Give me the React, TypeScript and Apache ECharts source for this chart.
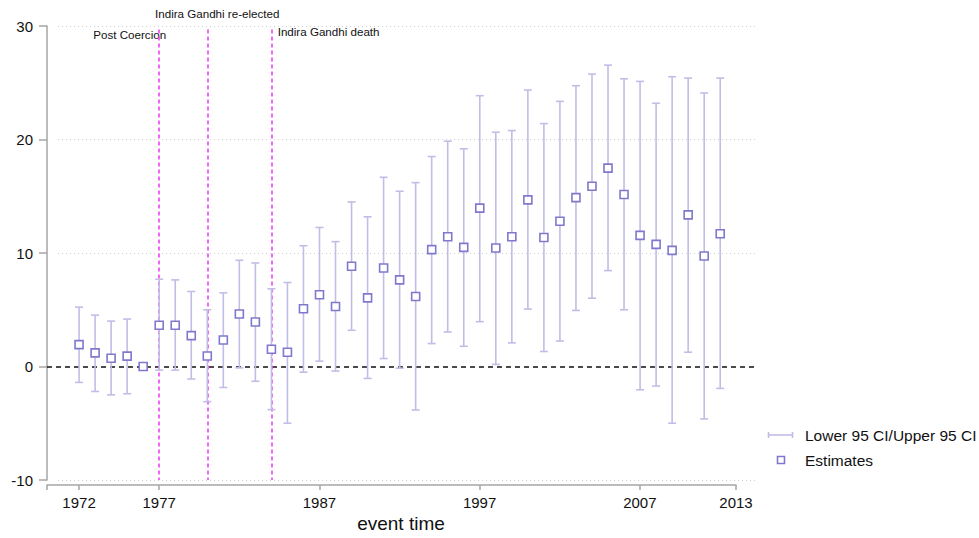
import React, { useEffect, useRef } from "react";
import * as echarts from "echarts";

const years = [1972,1973,1974,1975,1976,1977,1978,1979,1980,1981,1982,1983,1984,1985,1986,1987,1988,1989,1990,1991,1992,1993,1994,1995,1996,1997,1998,1999,2000,2001,2002,2003,2004,2005,2006,2007,2008,2009,2010,2011,2012];
const estimates = [1.93,1.2,0.73,0.91,0,3.63,3.63,2.72,0.93,2.34,4.62,3.92,1.52,1.26,5.09,6.32,5.29,8.83,6.05,8.68,7.63,6.17,10.3,11.43,10.5,13.95,10.44,11.43,14.68,11.37,12.8,14.88,15.88,17.48,15.15,11.55,10.76,10.23,13.36,9.74,11.7];
const lower = [-1.4,-2.2,-2.5,-2.4,null,-0.32,-0.32,-1.1,-3.1,-1.85,-0.12,-1.3,-3.8,-5.0,-0.5,0.47,-0.4,3.19,-1.05,0.7,-0.15,-3.83,2.02,3.04,1.78,3.95,0.18,2.08,5.06,1.32,2.25,4.94,6.02,8.45,5.0,-2.05,-1.72,-5.0,1.26,-4.62,-1.93];
const upper = [5.23,4.53,4.0,4.18,null,7.69,7.63,6.61,5.0,6.49,9.36,9.12,6.84,7.4,10.64,12.25,11.0,14.5,13.19,16.67,15.44,16.2,18.5,19.85,19.18,23.86,20.64,20.79,24.36,21.4,23.36,24.74,25.76,26.55,25.35,25.12,23.19,25.53,25.41,24.1,25.41];

const xTickValues = [1970,1972,1977,1987,1997,2007,2013];
const xLabelValues = [1972,1977,1987,1997,2007,2013];
const eventYears = [1977,1980,1984];
const gridValues = [-10,10,20,30];
const annotations = [
  { text: "Post Coercion", x: 1975.16, y: 29.26, align: "center" },
  { text: "Indira Gandhi re-elected", x: 1980.62, y: 31.11, align: "center" },
  { text: "Indira Gandhi death", x: 1984.39, y: 29.55, align: "left" },
];

const X_MIN = 1970;
const X_MAX = 2014.17;
const GRID_START = 1970.69;

const FONT = "'Liberation Sans', Arial, sans-serif";
const CI_COLOR = "#c1bde6";
const MARK_COLOR = "#7f78cc";
const AXIS_COLOR = "#a6a6a6";
const TEXT_COLOR = "#111111";
const EVENT_COLOR = "#f240f2";

export default function App() {
  const ref = useRef<HTMLDivElement>(null);
  useEffect(() => {
    if (!ref.current) return;
    const chart = echarts.init(ref.current, null, { renderer: "svg" });
    const ciData = years
      .map((y, i) => [y, lower[i], upper[i]])
      .filter((d) => d[1] !== null && d[2] !== null);
    const estData = years.map((y, i) => [y, estimates[i]]);

    const markData: any[] = [];
    gridValues.forEach((v) => {
      markData.push([
        { coord: [GRID_START, v], lineStyle: { color: "#cfcfcf", type: [1, 3], width: 1 } },
        { coord: [X_MAX, v] },
      ]);
    });
    markData.push([
      { coord: [X_MIN, 0], lineStyle: { color: "#111", type: [5, 4], width: 1.6 } },
      { coord: [X_MAX, 0] },
    ]);
    eventYears.forEach((y) => {
      markData.push([
        { coord: [y, 29.7], lineStyle: { color: EVENT_COLOR, type: [4, 3], width: 1.6, opacity: 1 } },
        { coord: [y, -10] },
      ]);
    });

    const option: any = {
      animation: false,
      textStyle: { fontFamily: FONT },
      grid: [
        { left: 47, top: 26, height: 454, right: 224 },
        { left: 47, top: 26, height: 454, width: 689 },
      ],
      xAxis: [
        {
          type: "value", gridIndex: 0, min: X_MIN, max: X_MAX,
          axisLine: { show: false }, axisTick: { show: false }, axisLabel: { show: false },
          splitLine: { show: false },
          name: "event time", nameLocation: "middle", nameGap: 34,
          nameTextStyle: { fontSize: 19, color: TEXT_COLOR, fontFamily: FONT },
        },
        {
          type: "value", gridIndex: 1, min: X_MIN, max: 2013, offset: 5, position: "bottom",
          axisLine: { show: true, onZero: false, lineStyle: { color: AXIS_COLOR, width: 1.5 } },
          axisTick: { show: true, length: 5, customValues: xTickValues, lineStyle: { color: AXIS_COLOR, width: 1.5 } },
          axisLabel: { customValues: xLabelValues, fontSize: 15, color: TEXT_COLOR, margin: 10, fontFamily: FONT, formatter: (v: number) => String(v) },
          splitLine: { show: false },
        },
      ],
      yAxis: [
        {
          type: "value", gridIndex: 0, min: -10, max: 30, interval: 10,
          axisLine: { show: true, onZero: false, lineStyle: { color: AXIS_COLOR, width: 1.5 } },
          axisTick: { show: true, length: 8, lineStyle: { color: AXIS_COLOR, width: 1.5 } },
          axisLabel: { fontSize: 15, color: TEXT_COLOR, margin: 14, fontFamily: FONT },
          splitLine: { show: false },
        },
        { type: "value", gridIndex: 1, min: -10, max: 30, show: false },
      ],
      series: [
        {
          type: "custom",
          name: "Lower 95 CI/Upper 95 CI",
          xAxisIndex: 0, yAxisIndex: 0,
          data: ciData,
          encode: { x: 0, y: [1, 2] },
          z: 3,
          renderItem: (params: any, api: any) => {
            const x = api.value(0);
            const lo = api.coord([x, api.value(1)]);
            const hi = api.coord([x, api.value(2)]);
            const cw = 4;
            const style = { stroke: CI_COLOR, lineWidth: 1.6 };
            return {
              type: "group",
              children: [
                { type: "line", shape: { x1: lo[0], y1: lo[1], x2: hi[0], y2: hi[1] }, style },
                { type: "line", shape: { x1: hi[0] - cw, y1: hi[1], x2: hi[0] + cw, y2: hi[1] }, style },
                { type: "line", shape: { x1: lo[0] - cw, y1: lo[1], x2: lo[0] + cw, y2: lo[1] }, style },
              ],
            };
          },
        },
        {
          type: "scatter",
          name: "Estimates",
          xAxisIndex: 0, yAxisIndex: 0,
          data: estData,
          symbol: "rect",
          symbolSize: 8,
          z: 5,
          itemStyle: { color: "#ffffff", borderColor: MARK_COLOR, borderWidth: 1.6, opacity: 1 },
          markLine: {
            silent: true,
            symbol: ["none", "none"],
            label: { show: false },
            data: markData,
            z: 2,
          },
        },
      ],
    };
    chart.setOption(option);

    const graphics: any[] = annotations.map((a) => {
      const p = chart.convertToPixel({ gridIndex: 0 }, [a.x, a.y]) as number[];
      return {
        type: "text", x: p[0], y: p[1],
        style: { text: a.text, fontSize: 11.6, fontFamily: FONT, fill: TEXT_COLOR, align: a.align, verticalAlign: "middle" },
      };
    });
    graphics.push(
      { type: "line", shape: { x1: 768, y1: 435, x2: 793, y2: 435 }, style: { stroke: CI_COLOR, lineWidth: 1.6 } },
      { type: "line", shape: { x1: 768.5, y1: 432, x2: 768.5, y2: 438 }, style: { stroke: CI_COLOR, lineWidth: 1.6 } },
      { type: "line", shape: { x1: 792.5, y1: 432, x2: 792.5, y2: 438 }, style: { stroke: CI_COLOR, lineWidth: 1.6 } },
      { type: "text", x: 805, y: 435, style: { text: "Lower 95 CI/Upper 95 CI", fontSize: 15.5, fontFamily: FONT, fill: TEXT_COLOR, verticalAlign: "middle" } },
      { type: "rect", shape: { x: 777.5, y: 456.5, width: 7, height: 7 }, style: { fill: "#ffffff", stroke: MARK_COLOR, lineWidth: 1.6 } },
      { type: "text", x: 805, y: 460, style: { text: "Estimates", fontSize: 15.5, fontFamily: FONT, fill: TEXT_COLOR, verticalAlign: "middle" } },
    );
    chart.setOption({ graphic: graphics });

    return () => chart.dispose();
  }, []);
  return <div ref={ref} style={{ position: "fixed", left: 0, top: 0, width: 979, height: 538, background: "#fff" }} />;
}
